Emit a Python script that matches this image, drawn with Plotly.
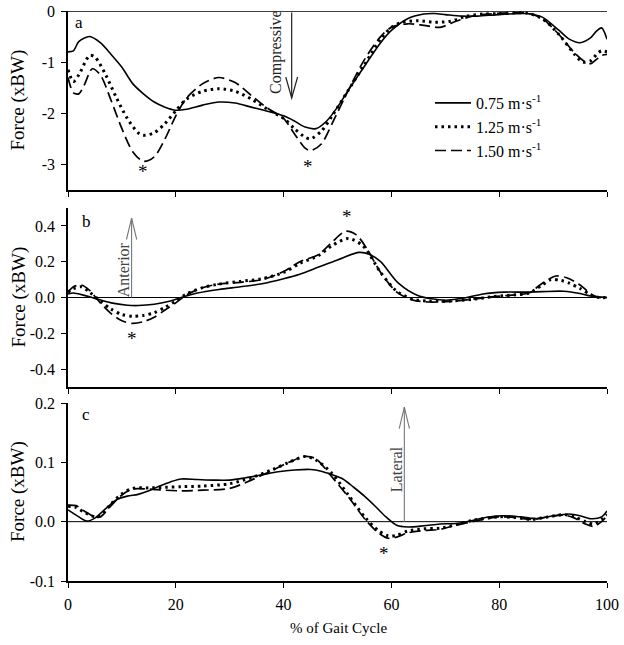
import plotly.graph_objects as go

# ---------------- data ----------------
series_names = ["0.75 m·s<sup>-1</sup>", "1.25 m·s<sup>-1</sup>", "1.50 m·s<sup>-1</sup>"]

# Panel a (vertical / compressive force)
a_x_075 = [0, 1, 2, 4, 6, 8, 10, 12, 14, 16, 18, 20, 22, 25, 28, 31, 34, 37, 40, 42, 44, 46, 48, 50, 52, 55, 58, 60, 63, 66, 68, 70, 73, 76, 80, 85, 88, 91, 93, 95, 97, 98, 99, 100]
a_y_075 = [-0.8, -0.78, -0.6, -0.5, -0.62, -0.85, -1.1, -1.42, -1.62, -1.78, -1.88, -1.94, -1.92, -1.84, -1.78, -1.8, -1.88, -1.96, -2.05, -2.15, -2.27, -2.3, -2.15, -1.88, -1.55, -1.08, -0.62, -0.38, -0.15, -0.06, -0.05, -0.07, -0.1, -0.1, -0.07, -0.05, -0.12, -0.37, -0.55, -0.62, -0.52, -0.4, -0.33, -0.55]
a_x_125 = [0, 1, 2, 4, 5, 7, 9, 11, 13, 14, 16, 18, 20, 22, 25, 28, 31, 34, 37, 40, 42, 44, 45, 47, 49, 52, 55, 58, 60, 62, 65, 68, 71, 74, 77, 80, 85, 88, 91, 94, 95.5, 97, 98.3, 99, 100]
a_y_125 = [-1.15, -1.38, -1.25, -0.87, -0.9, -1.25, -1.7, -2.1, -2.38, -2.43, -2.38, -2.2, -1.95, -1.72, -1.57, -1.52, -1.57, -1.72, -1.92, -2.1, -2.3, -2.47, -2.5, -2.35, -2.05, -1.55, -1.05, -0.55, -0.32, -0.22, -0.19, -0.22, -0.2, -0.1, -0.06, -0.05, -0.04, -0.15, -0.45, -0.85, -1.0, -0.97, -0.82, -0.78, -0.8]
a_x_150 = [0, 1, 2, 3, 4.5, 6, 8, 10, 12, 14, 16, 18, 20, 22, 25, 28, 31, 34, 37, 40, 42, 44, 45, 47, 49, 52, 55, 58, 60, 63, 66, 69, 72, 75, 78, 85, 88, 91, 94, 96, 97, 98, 99, 100]
a_y_150 = [-1.3, -1.6, -1.62, -1.45, -1.13, -1.25, -1.75, -2.3, -2.75, -2.94, -2.85, -2.5, -2.05, -1.7, -1.42, -1.3, -1.4, -1.65, -1.9, -2.1, -2.4, -2.68, -2.73, -2.6, -2.2, -1.55, -0.95, -0.5, -0.32, -0.25, -0.28, -0.32, -0.2, -0.1, -0.06, -0.04, -0.15, -0.45, -0.82, -1.0, -1.03, -0.95, -0.87, -0.85]

# Panel b (anterior-posterior force)
b_x_075 = [0, 1, 3, 5, 8, 11, 13, 16, 19, 21, 24, 28, 32, 36, 40, 43, 46.5, 50, 54, 56, 58, 61.3, 65, 70, 74, 77, 81, 85, 88, 92, 95, 97, 100]
b_y_075 = [0.02, 0.025, 0.012, -0.005, -0.03, -0.043, -0.045, -0.038, -0.02, 0.0, 0.025, 0.045, 0.06, 0.077, 0.105, 0.13, 0.17, 0.21, 0.252, 0.24, 0.2, 0.08, 0.01, -0.015, 0.0, 0.02, 0.03, 0.03, 0.033, 0.035, 0.022, 0.008, 0.0]
b_x_125 = [0, 1, 2.5, 4, 6, 8, 10, 12, 14, 16, 18, 20, 22, 25, 28, 32, 36, 40, 43, 46.5, 49, 52, 54.5, 55.5, 58, 61, 64, 67, 71, 75, 79, 83, 85.5, 88, 89.6, 91.5, 93, 95, 97, 98.5, 100]
b_y_125 = [0.03, 0.05, 0.06, 0.03, -0.02, -0.065, -0.095, -0.105, -0.1, -0.085, -0.055, -0.02, 0.02, 0.055, 0.075, 0.09, 0.105, 0.14, 0.19, 0.235, 0.29, 0.33, 0.295, 0.26, 0.14, 0.035, -0.01, -0.02, -0.02, -0.01, 0.005, 0.015, 0.025, 0.07, 0.1, 0.095, 0.08, 0.05, 0.015, 0.0, 0.0]
b_x_150 = [0, 1, 2.5, 4, 6, 8, 10, 12, 14, 16, 18, 20, 22, 25, 28, 32, 36, 40, 43, 46.5, 49, 51.5, 53.5, 55.5, 58, 61, 64, 67, 71, 75, 79, 83, 85.5, 88, 90.5, 92.5, 95, 97, 98.5, 100]
b_y_150 = [0.03, 0.06, 0.07, 0.04, -0.03, -0.09, -0.13, -0.145, -0.135, -0.11, -0.07, -0.03, 0.015, 0.055, 0.075, 0.085, 0.1, 0.145, 0.2, 0.24, 0.31, 0.37, 0.35, 0.27, 0.14, 0.03, -0.015, -0.025, -0.022, -0.01, 0.005, 0.015, 0.025, 0.08, 0.12, 0.11, 0.07, 0.02, 0.0, 0.0]

# Panel c (medio-lateral force)
c_x_075 = [0, 1, 2, 3.5, 5, 7, 9, 11, 13, 15, 17, 19, 21, 24, 27, 30, 33, 36, 39, 42, 45, 47, 49, 51, 53, 55, 57, 59, 61, 63, 66, 69, 72, 75, 78, 81, 84, 87, 90, 93, 95, 97, 99, 100]
c_y_075 = [0.02, 0.014, 0.008, 0.001, 0.006, 0.022, 0.037, 0.043, 0.046, 0.052, 0.06, 0.067, 0.072, 0.071, 0.07, 0.07, 0.074, 0.079, 0.084, 0.087, 0.088, 0.085, 0.079, 0.072, 0.058, 0.043, 0.026, 0.008, -0.006, -0.009, -0.007, -0.004, -0.003, 0.002, 0.008, 0.01, 0.008, 0.005, 0.01, 0.013, 0.01, 0.005, 0.008, 0.018]
c_x_125 = [0, 1.5, 3, 5, 6, 8, 10, 12, 15, 18, 21, 25, 30, 34, 38, 41, 44, 46, 48.9, 52, 55.2, 57.6, 59.4, 61, 63, 66, 69, 72, 75, 79.8, 83, 86, 89, 92, 94, 96, 97.5, 99, 100]
c_y_125 = [0.026, 0.024, 0.016, 0.008, 0.01, 0.03, 0.047, 0.056, 0.057, 0.058, 0.059, 0.06, 0.064, 0.074, 0.088, 0.1, 0.11, 0.104, 0.082, 0.045, 0.006, -0.015, -0.024, -0.023, -0.016, -0.012, -0.011, -0.005, 0.002, 0.008, 0.007, 0.004, 0.008, 0.012, 0.008, 0.0, -0.004, 0.004, 0.012]
c_x_150 = [0, 1.5, 3, 5, 6, 8, 10, 12, 15, 18, 21, 25, 30, 34, 38, 41, 44, 46, 48.9, 52, 55.2, 57.6, 59.4, 61, 63, 66, 69, 72, 75, 79.8, 83, 86, 89, 92, 94, 96, 97.5, 99, 100]
c_y_150 = [0.028, 0.027, 0.018, 0.008, 0.008, 0.027, 0.045, 0.055, 0.055, 0.053, 0.052, 0.053, 0.056, 0.07, 0.087, 0.1, 0.11, 0.106, 0.076, 0.042, 0.003, -0.019, -0.028, -0.026, -0.019, -0.015, -0.013, -0.006, 0.0, 0.008, 0.007, 0.004, 0.008, 0.011, 0.006, -0.004, -0.008, 0.0, 0.01]

a_ticks = [0, -1, -2, -3]
a_ticktext = ["0", "-1", "-2", "-3"]
b_ticks = [0.4, 0.2, 0.0, -0.2, -0.4]
b_ticktext = ["0.4", "0.2", "0.0", "-0.2", "-0.4"]
c_ticks = [0.2, 0.1, 0.0, -0.1]
c_ticktext = ["0.2", "0.1", "0.0", "-0.1"]
x_ticks = [0, 20, 40, 60, 80, 100]

# ---------------- figure ----------------
FONT = "Liberation Serif"
W, H = 624, 645
styles = [
    dict(color="black", width=1.6, dash="solid"),
    dict(color="black", width=3, dash="2.5px,4px"),
    dict(color="black", width=1.7, dash="11px,5px"),
]

fig = go.Figure()
panels = [
    ("x", "y", [(a_x_075, a_y_075), (a_x_125, a_y_125), (a_x_150, a_y_150)]),
    ("x2", "y2", [(b_x_075, b_y_075), (b_x_125, b_y_125), (b_x_150, b_y_150)]),
    ("x3", "y3", [(c_x_075, c_y_075), (c_x_125, c_y_125), (c_x_150, c_y_150)]),
]
for pi, (xa, ya, data) in enumerate(panels):
    for si, (xs, ys) in enumerate(data):
        fig.add_trace(go.Scatter(
            x=xs, y=ys, xaxis=xa, yaxis=ya, mode="lines",
            line=dict(shape="spline", smoothing=0.8, **styles[si]),
            name=series_names[si], legendgroup=str(si),
            showlegend=(pi == 0), cliponaxis=False,
        ))

# screen-pixel layout targets
L_PX, R_PX, T_PX, B_PX = 68, 607, 11, 581
ml, mr = L_PX, W - R_PX
mt, mb = T_PX, H - B_PX
ph = B_PX - T_PX
pw = R_PX - L_PX
def dom(top_px, bot_px):
    return [(B_PX - bot_px) / ph, (B_PX - top_px) / ph]

dom_a = dom(11, 190)
dom_b = dom(208, 387)
dom_c = dom(403, 581)

tickfont = dict(family=FONT, size=16, color="black")
xcommon = dict(range=[0, 100], showline=True, linecolor="black", linewidth=1.5,
               ticks="outside", ticklen=5, tickwidth=1, tickcolor="black",
               tickvals=x_ticks, showgrid=False, zeroline=False, tickfont=tickfont,
               automargin=False)
ycommon = dict(showline=True, linecolor="black", linewidth=1.5, ticks="outside",
               ticklen=5, tickwidth=1, tickcolor="black", showgrid=False,
               zeroline=False, tickfont=tickfont, ticklabelstandoff=3, automargin=False)

fig.update_layout(
    width=W, height=H,
    margin=dict(l=ml, r=mr, t=mt, b=mb, autoexpand=False),
    paper_bgcolor="white", plot_bgcolor="white",
    font=dict(family=FONT, color="black"),
    xaxis=dict(domain=[0, 1], anchor="y", showticklabels=False, **xcommon),
    xaxis2=dict(domain=[0, 1], anchor="y2", matches="x", showticklabels=False, **xcommon),
    xaxis3=dict(domain=[0, 1], anchor="y3", matches="x", showticklabels=True,
                ticklabelstandoff=3, **xcommon),
    yaxis=dict(domain=dom_a, anchor="x", range=[-3.5, 0], tickvals=a_ticks, ticktext=a_ticktext, **ycommon),
    yaxis2=dict(domain=dom_b, anchor="x2", range=[-0.5, 0.5], tickvals=b_ticks, ticktext=b_ticktext, **ycommon),
    yaxis3=dict(domain=dom_c, anchor="x3", range=[-0.1, 0.2], tickvals=c_ticks, ticktext=c_ticktext, **ycommon),
    legend=dict(x=(430 - L_PX) / pw, y=(B_PX - 86) / ph, xanchor="left", yanchor="top",
                bgcolor="rgba(0,0,0,0)",
                font=dict(family=FONT, size=16, color="black"), tracegroupgap=0,
                itemwidth=36),
    showlegend=True,
)

# zero reference lines
for xr, yr, w in [("x", "y", 1.5), ("x2", "y2", 1), ("x3", "y3", 1)]:
    fig.add_shape(type="line", xref=xr, yref=yr, x0=0, x1=100, y0=0, y1=0,
                  line=dict(color="black", width=w))

# direction arrows (shaft + open head)
def arrow(xr, yr, x, y0, y1, head_h, head_w, color, width):
    fig.add_shape(type="line", xref=xr, yref=yr, x0=x, x1=x, y0=y0, y1=y1,
                  line=dict(color=color, width=width))
    sgn = 1 if y1 < y0 else -1
    fig.add_shape(type="path", xref=xr, yref=yr,
                  path=f"M {x - head_w},{y1 + sgn * head_h} L {x},{y1} L {x + head_w},{y1 + sgn * head_h}",
                  line=dict(color=color, width=width))

arrow("x", "y", 41.5, -0.03, -1.7, 0.41, 1.1, "#222222", 1.2)
arrow("x2", "y2", 11.8, 0.0, 0.444, 0.12, 0.95, "#777777", 1.1)
arrow("x3", "y3", 62.4, 0.0, 0.193, 0.036, 0.95, "#777777", 1.1)

ann = []
def text(xr, yr, x, y, t, size=15, angle=0, color="black"):
    ann.append(dict(xref=xr, yref=yr, x=x, y=y, text=t, showarrow=False, textangle=angle,
                    font=dict(family=FONT, size=size, color=color), xanchor="center", yanchor="middle"))

text("x", "y", 38.6, -0.8, "Compressive", size=16, angle=-90, color="#222222")
text("x2", "y2", 10.3, 0.155, "Anterior", size=16, angle=-90, color="#444444")
text("x3", "y3", 61.1, 0.089, "Lateral", size=16, angle=-90, color="#444444")

text("x", "y", 2.1, -0.22, "a", size=17)
text("x2", "y2", 3.4, 0.425, "b", size=17)
text("x3", "y3", 3.4, 0.18, "c", size=17)

text("x", "y", 13.9, -3.14, "*", size=19)
text("x", "y", 44.6, -3.04, "*", size=19)
text("x2", "y2", 11.8, -0.23, "*", size=19)
text("x2", "y2", 51.8, 0.455, "*", size=19)
text("x3", "y3", 58.7, -0.054, "*", size=19)

# axis titles
for d in (dom_a, dom_b, dom_c):
    ann.append(dict(xref="paper", yref="paper", x=(18 - L_PX) / pw, y=(d[0] + d[1]) / 2,
                    text="Force (xBW)", showarrow=False, textangle=-90,
                    font=dict(family=FONT, size=19, color="black"),
                    xanchor="center", yanchor="middle"))
ann.append(dict(xref="paper", yref="paper", x=(338 - L_PX) / pw, y=(B_PX - 628) / ph,
                text="% of Gait Cycle", showarrow=False,
                font=dict(family=FONT, size=15, color="black"),
                xanchor="center", yanchor="middle"))
fig.update_layout(annotations=ann)

fig.write_html("out.html", config={"displayModeBar": False},
               post_script="document.body.style.margin='0';")
